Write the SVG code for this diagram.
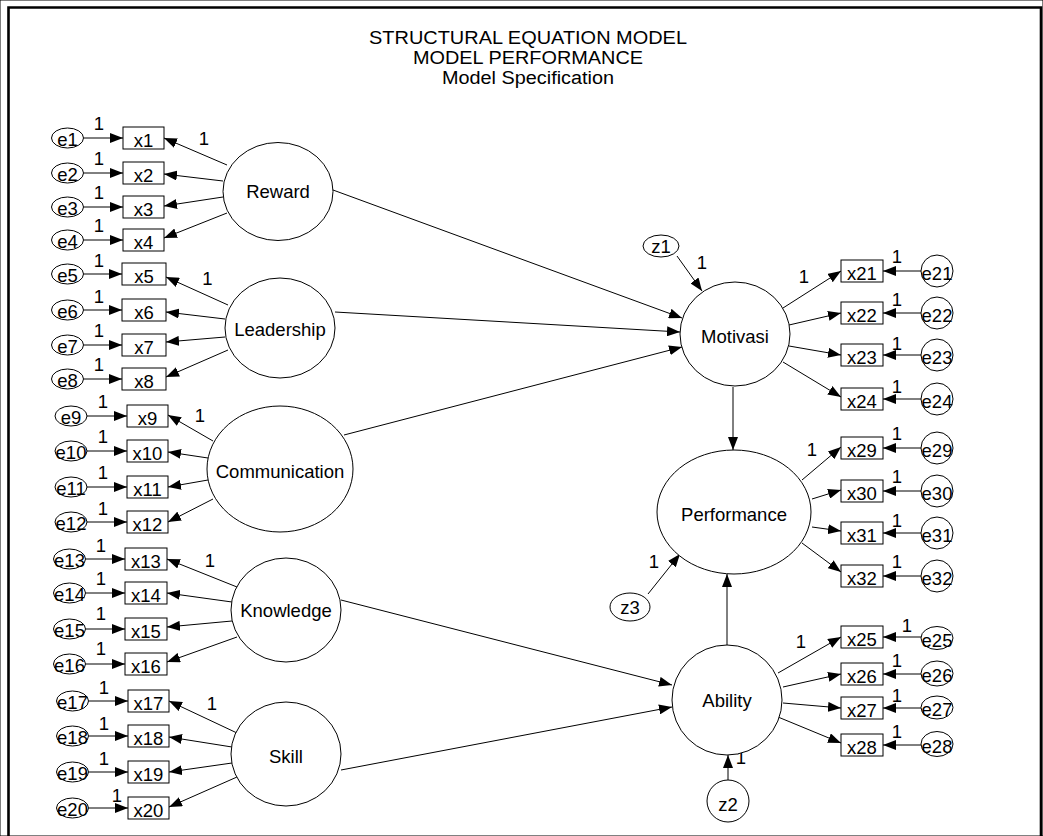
<svg xmlns="http://www.w3.org/2000/svg" width="1043" height="836" viewBox="0 0 1043 836">
<defs>
<marker id="ah" viewBox="0 0 13 10" refX="13" refY="5" markerWidth="13" markerHeight="10" markerUnits="userSpaceOnUse" orient="auto"><path d="M0,0 L13,5 L0,10 z" fill="#000"/></marker>
</defs>
<style>
text{font-family:"Liberation Sans",Arial,sans-serif;font-size:18.5px;fill:#000;text-anchor:middle}
.title{font-size:18px}
rect,ellipse{fill:#fff;stroke:#000;stroke-width:1}
#connectors line,#connectors path{stroke:#000;stroke-width:1;fill:none;marker-end:url(#ah)}
.frame{fill:none;stroke:#000;stroke-width:2.6}
</style>
<rect x="0" y="0" width="1043" height="836" fill="#fff" stroke="none"/>
<path class="frame" d="M8.5,836 V7.5 H1041 V836"/>
<g id="title">
<text class="title" x="528" y="43.5" textLength="318" lengthAdjust="spacingAndGlyphs">STRUCTURAL EQUATION MODEL</text>
<text class="title" x="528" y="63.8" textLength="230" lengthAdjust="spacingAndGlyphs">MODEL PERFORMANCE</text>
<text class="title" x="528" y="84.1" textLength="172" lengthAdjust="spacingAndGlyphs">Model Specification</text>
</g>
<g id="connectors">
<line x1="83.5" y1="138" x2="123" y2="138"/>
<line x1="83.5" y1="173" x2="123" y2="173"/>
<line x1="83.5" y1="207" x2="123" y2="207"/>
<line x1="83.5" y1="240" x2="123" y2="240"/>
<line x1="83.5" y1="274" x2="122" y2="274"/>
<line x1="83.5" y1="310" x2="122" y2="310"/>
<line x1="83.5" y1="345" x2="122" y2="345"/>
<line x1="83.5" y1="379" x2="122" y2="379"/>
<line x1="87" y1="416" x2="127" y2="416"/>
<line x1="87" y1="451" x2="127" y2="451"/>
<line x1="87" y1="487" x2="127" y2="487"/>
<line x1="87" y1="522" x2="127" y2="522"/>
<line x1="85.5" y1="559" x2="125" y2="559"/>
<line x1="85.5" y1="593" x2="125" y2="593"/>
<line x1="85.5" y1="629" x2="125" y2="629"/>
<line x1="85.5" y1="664" x2="125" y2="664"/>
<line x1="88.5" y1="701" x2="128" y2="701"/>
<line x1="88.5" y1="736" x2="128" y2="736"/>
<line x1="88.5" y1="772" x2="128" y2="772"/>
<line x1="88.5" y1="808" x2="128" y2="808"/>
<line x1="227" y1="165" x2="164" y2="138"/>
<line x1="223" y1="181" x2="164" y2="174"/>
<line x1="223" y1="197" x2="164" y2="206"/>
<line x1="227" y1="213" x2="164" y2="238"/>
<line x1="228" y1="305" x2="166" y2="277"/>
<line x1="225" y1="319" x2="166" y2="312"/>
<line x1="225" y1="337" x2="166" y2="342"/>
<line x1="228" y1="350" x2="166" y2="377"/>
<line x1="213" y1="441" x2="168" y2="415"/>
<line x1="208" y1="458" x2="168" y2="452"/>
<line x1="208" y1="480" x2="168" y2="487"/>
<line x1="213" y1="499" x2="168" y2="522"/>
<line x1="237" y1="587" x2="167" y2="559"/>
<line x1="232" y1="602" x2="167" y2="593"/>
<line x1="232" y1="621" x2="167" y2="627"/>
<line x1="237" y1="637" x2="167" y2="662"/>
<line x1="237" y1="733" x2="169" y2="701"/>
<line x1="232" y1="747" x2="169" y2="737"/>
<line x1="232" y1="763" x2="169" y2="772"/>
<line x1="237" y1="777" x2="169" y2="807"/>
<line x1="333" y1="190" x2="682" y2="318"/>
<line x1="335" y1="312" x2="680" y2="332"/>
<line x1="344" y1="435" x2="682" y2="347"/>
<line x1="341" y1="600" x2="672" y2="685"/>
<line x1="341" y1="770" x2="672" y2="707"/>
<line x1="733" y1="387" x2="733" y2="450"/>
<line x1="727" y1="645" x2="727" y2="574"/>
<line x1="677" y1="256" x2="702" y2="291"/>
<line x1="648" y1="594" x2="680" y2="554"/>
<line x1="728" y1="780" x2="728" y2="755"/>
<line x1="783" y1="308" x2="841" y2="271"/>
<line x1="789" y1="325" x2="841" y2="313"/>
<line x1="789" y1="346" x2="841" y2="355"/>
<line x1="783" y1="362" x2="841" y2="397"/>
<line x1="802" y1="480" x2="841" y2="447"/>
<line x1="812" y1="499" x2="841" y2="490"/>
<line x1="812" y1="527" x2="841" y2="531"/>
<line x1="802" y1="543" x2="841" y2="572"/>
<line x1="778" y1="673" x2="841" y2="637"/>
<line x1="783" y1="687" x2="841" y2="674"/>
<line x1="783" y1="703" x2="841" y2="708"/>
<line x1="778" y1="717" x2="841" y2="743"/>
<line x1="921" y1="271" x2="883" y2="271"/>
<line x1="921" y1="313" x2="883" y2="313"/>
<line x1="921" y1="355" x2="883" y2="355"/>
<line x1="921" y1="399" x2="883" y2="399"/>
<line x1="921" y1="448" x2="883" y2="448"/>
<line x1="921" y1="491" x2="883" y2="491"/>
<line x1="921" y1="533" x2="883" y2="533"/>
<line x1="921" y1="576" x2="883" y2="576"/>
<line x1="921" y1="637" x2="883" y2="637"/>
<line x1="921" y1="674" x2="883" y2="674"/>
<line x1="921" y1="708" x2="883" y2="708"/>
<line x1="921" y1="745" x2="883" y2="745"/>
</g>
<g id="weights">
<text x="99" y="130">1</text><text x="99" y="165">1</text><text x="99" y="199">1</text><text x="99" y="232">1</text>
<text x="99" y="267">1</text><text x="99" y="303">1</text><text x="99" y="337">1</text><text x="99" y="371">1</text>
<text x="103" y="408">1</text><text x="103" y="443">1</text><text x="103" y="479">1</text><text x="103" y="515">1</text>
<text x="101" y="552">1</text><text x="101" y="585">1</text><text x="101" y="620">1</text><text x="101" y="655">1</text>
<text x="104" y="694">1</text><text x="104" y="730">1</text><text x="104" y="765">1</text><text x="117" y="802">1</text>
<text x="204" y="145">1</text><text x="207.5" y="285">1</text><text x="200" y="422">1</text><text x="210" y="567">1</text><text x="212" y="710">1</text>
<text x="702" y="269">1</text><text x="654" y="568">1</text><text x="741" y="764">1</text>
<text x="804" y="283">1</text><text x="812" y="456">1</text><text x="801" y="648">1</text>
<text x="897" y="263">1</text><text x="897" y="306">1</text><text x="897" y="350">1</text><text x="897" y="393">1</text>
<text x="897" y="440">1</text><text x="897" y="483">1</text><text x="897" y="527">1</text><text x="897" y="568">1</text>
<text x="907" y="632">1</text><text x="897" y="667">1</text><text x="897" y="702">1</text><text x="897" y="738">1</text>
</g>
<g id="Reward"><ellipse cx="278" cy="191.5" rx="55" ry="49"/><text x="278" y="197.5">Reward</text></g>
<g id="Leadership"><ellipse cx="280" cy="328" rx="55" ry="50"/><text x="280" y="336">Leadership</text></g>
<g id="Communication"><ellipse cx="280" cy="469" rx="73" ry="63"/><text x="280" y="478">Communication</text></g>
<g id="Knowledge"><ellipse cx="286" cy="610" rx="55" ry="52"/><text x="286" y="617">Knowledge</text></g>
<g id="Skill"><ellipse cx="286" cy="754" rx="55" ry="52"/><text x="286" y="763">Skill</text></g>
<g id="Motivasi"><ellipse cx="735" cy="334" rx="55" ry="52"/><text x="735" y="343">Motivasi</text></g>
<g id="Performance"><ellipse cx="734" cy="512" rx="77" ry="62"/><text x="734" y="520.5">Performance</text></g>
<g id="Ability"><ellipse cx="727" cy="700" rx="55" ry="55"/><text x="727" y="707">Ability</text></g>
<g id="z1"><ellipse cx="661" cy="246" rx="18" ry="11"/><text x="661" y="253">z1</text></g>
<g id="z3"><ellipse cx="630" cy="607" rx="20" ry="14"/><text x="630" y="613.5">z3</text></g>
<g id="z2"><ellipse cx="728" cy="801" rx="21" ry="21"/><text x="728" y="811">z2</text></g>
<g id="x1"><rect x="123" y="127" width="41" height="22"/><text x="143.5" y="146.5">x1</text></g>
<g id="x2"><rect x="123" y="162" width="41" height="22"/><text x="143.5" y="181.5">x2</text></g>
<g id="x3"><rect x="123" y="196" width="41" height="22"/><text x="143.5" y="215.5">x3</text></g>
<g id="x4"><rect x="123" y="229" width="41" height="22"/><text x="143.5" y="248.5">x4</text></g>
<g id="x5"><rect x="122" y="263" width="44" height="22"/><text x="144" y="282.5">x5</text></g>
<g id="x6"><rect x="122" y="299" width="44" height="22"/><text x="144" y="318.5">x6</text></g>
<g id="x7"><rect x="122" y="334" width="44" height="22"/><text x="144" y="353.5">x7</text></g>
<g id="x8"><rect x="122" y="368" width="44" height="22"/><text x="144" y="387.5">x8</text></g>
<g id="x9"><rect x="127" y="405" width="41" height="22"/><text x="147.5" y="424.5">x9</text></g>
<g id="x10"><rect x="127" y="440" width="41" height="22"/><text x="147.5" y="459.5">x10</text></g>
<g id="x11"><rect x="127" y="476" width="41" height="22"/><text x="147.5" y="495.5">x11</text></g>
<g id="x12"><rect x="127" y="511" width="41" height="22"/><text x="147.5" y="530.5">x12</text></g>
<g id="x13"><rect x="125" y="548" width="42" height="22"/><text x="146" y="567.5">x13</text></g>
<g id="x14"><rect x="125" y="582" width="42" height="22"/><text x="146" y="601.5">x14</text></g>
<g id="x15"><rect x="125" y="618" width="42" height="22"/><text x="146" y="637.5">x15</text></g>
<g id="x16"><rect x="125" y="653" width="42" height="22"/><text x="146" y="672.5">x16</text></g>
<g id="x17"><rect x="128" y="690" width="41" height="22"/><text x="148.5" y="709.5">x17</text></g>
<g id="x18"><rect x="128" y="725" width="41" height="22"/><text x="148.5" y="744.5">x18</text></g>
<g id="x19"><rect x="128" y="761" width="41" height="22"/><text x="148.5" y="780.5">x19</text></g>
<g id="x20"><rect x="128" y="797" width="41" height="22"/><text x="148.5" y="816.5">x20</text></g>
<g id="e1"><ellipse cx="67.5" cy="138" rx="16" ry="10"/><text x="67.5" y="146">e1</text></g>
<g id="e2"><ellipse cx="67.5" cy="173" rx="16" ry="10"/><text x="67.5" y="181">e2</text></g>
<g id="e3"><ellipse cx="67.5" cy="207" rx="16" ry="10"/><text x="67.5" y="215">e3</text></g>
<g id="e4"><ellipse cx="67.5" cy="240" rx="16" ry="10"/><text x="67.5" y="248">e4</text></g>
<g id="e5"><ellipse cx="67.5" cy="274" rx="16" ry="10"/><text x="67.5" y="282">e5</text></g>
<g id="e6"><ellipse cx="67.5" cy="310" rx="16" ry="10"/><text x="67.5" y="318">e6</text></g>
<g id="e7"><ellipse cx="67.5" cy="345" rx="16" ry="10"/><text x="67.5" y="353">e7</text></g>
<g id="e8"><ellipse cx="67.5" cy="379" rx="16" ry="10"/><text x="67.5" y="387">e8</text></g>
<g id="e9"><ellipse cx="71" cy="416" rx="16" ry="10"/><text x="71" y="424">e9</text></g>
<g id="e10"><ellipse cx="71" cy="451" rx="16" ry="10"/><text x="71" y="459">e10</text></g>
<g id="e11"><ellipse cx="71" cy="487" rx="16" ry="10"/><text x="71" y="495">e11</text></g>
<g id="e12"><ellipse cx="71" cy="522" rx="16" ry="10"/><text x="71" y="530">e12</text></g>
<g id="e13"><ellipse cx="69.5" cy="559" rx="16" ry="10"/><text x="69.5" y="567">e13</text></g>
<g id="e14"><ellipse cx="69.5" cy="593" rx="16" ry="10"/><text x="69.5" y="601">e14</text></g>
<g id="e15"><ellipse cx="69.5" cy="629" rx="16" ry="10"/><text x="69.5" y="637">e15</text></g>
<g id="e16"><ellipse cx="69.5" cy="664" rx="16" ry="10"/><text x="69.5" y="672">e16</text></g>
<g id="e17"><ellipse cx="72.5" cy="701" rx="16" ry="10"/><text x="72.5" y="709">e17</text></g>
<g id="e18"><ellipse cx="72.5" cy="736" rx="16" ry="10"/><text x="72.5" y="744">e18</text></g>
<g id="e19"><ellipse cx="72.5" cy="772" rx="16" ry="10"/><text x="72.5" y="780">e19</text></g>
<g id="e20"><ellipse cx="72.5" cy="808" rx="16" ry="10"/><text x="72.5" y="816">e20</text></g>
<g id="x21"><rect x="841" y="260" width="42" height="22"/><text x="862" y="279.5">x21</text></g>
<g id="x22"><rect x="841" y="302" width="42" height="22"/><text x="862" y="321.5">x22</text></g>
<g id="x23"><rect x="841" y="344" width="42" height="22"/><text x="862" y="363.5">x23</text></g>
<g id="x24"><rect x="841" y="388" width="42" height="22"/><text x="862" y="407.5">x24</text></g>
<g id="x29"><rect x="841" y="437" width="42" height="22"/><text x="862" y="456.5">x29</text></g>
<g id="x30"><rect x="841" y="480" width="42" height="22"/><text x="862" y="499.5">x30</text></g>
<g id="x31"><rect x="841" y="522" width="42" height="22"/><text x="862" y="541.5">x31</text></g>
<g id="x32"><rect x="841" y="565" width="42" height="22"/><text x="862" y="584.5">x32</text></g>
<g id="x25"><rect x="841" y="626" width="42" height="22"/><text x="862" y="645.5">x25</text></g>
<g id="x26"><rect x="841" y="663" width="42" height="22"/><text x="862" y="682.5">x26</text></g>
<g id="x27"><rect x="841" y="697" width="42" height="22"/><text x="862" y="716.5">x27</text></g>
<g id="x28"><rect x="841" y="734" width="42" height="22"/><text x="862" y="753.5">x28</text></g>
<g id="e21"><ellipse cx="937" cy="271" rx="16" ry="16"/><text x="937" y="280">e21</text></g>
<g id="e22"><ellipse cx="937" cy="313" rx="16" ry="16"/><text x="937" y="322">e22</text></g>
<g id="e23"><ellipse cx="937" cy="355" rx="16" ry="16"/><text x="937" y="364">e23</text></g>
<g id="e24"><ellipse cx="937" cy="399" rx="16" ry="16"/><text x="937" y="408">e24</text></g>
<g id="e29"><ellipse cx="937" cy="448" rx="16" ry="16"/><text x="937" y="457">e29</text></g>
<g id="e30"><ellipse cx="937" cy="491" rx="16" ry="16"/><text x="937" y="500">e30</text></g>
<g id="e31"><ellipse cx="937" cy="533" rx="16" ry="16"/><text x="937" y="542">e31</text></g>
<g id="e32"><ellipse cx="937" cy="576" rx="16" ry="16"/><text x="937" y="585">e32</text></g>
<g id="e25"><ellipse cx="937" cy="638" rx="16" ry="11.5"/><text x="937" y="646.5">e25</text></g>
<g id="e26"><ellipse cx="937" cy="673.5" rx="16" ry="12.5"/><text x="937" y="682">e26</text></g>
<g id="e27"><ellipse cx="937" cy="707.5" rx="16" ry="11.5"/><text x="937" y="716">e27</text></g>
<g id="e28"><ellipse cx="937" cy="744" rx="16" ry="12.5"/><text x="937" y="752.5">e28</text></g>
</svg>
